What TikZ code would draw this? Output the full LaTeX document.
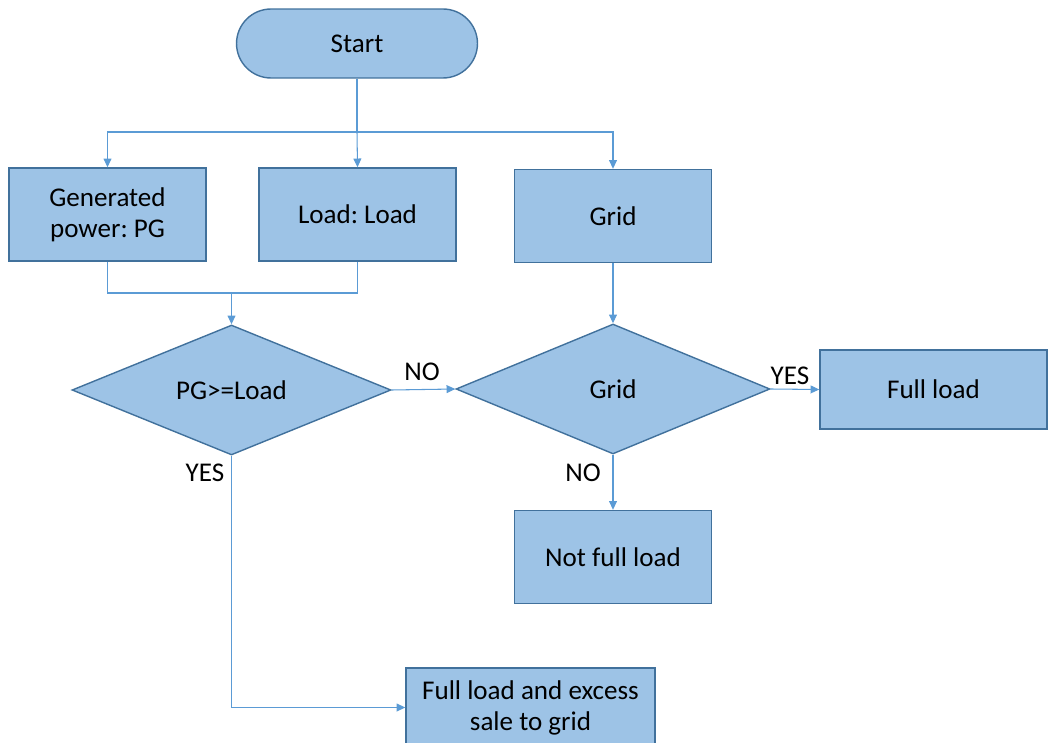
\documentclass[tikz,border=0pt]{standalone}
\usepackage{fontspec}
\setmainfont{Carlito}
\frenchspacing
\usetikzlibrary{
	arrows.meta,
	shapes.geometric,
	positioning
}
\definecolor{boxfill}{HTML}{9DC3E6}
\definecolor{boxline}{HTML}{41719C}
\definecolor{wire}{HTML}{5B9BD5}
\tikzset{
	>={Triangle[length=5pt, width=4.5pt]},
	flownode/.style={draw=boxline, fill=boxfill, line width=0.8pt, align=center, font=\fontsize{15.4}{17.6}\selectfont},
	termnode/.style={flownode, rounded corners=0.69cm, minimum width=4.82cm, minimum height=1.38cm},
	procnode/.style={flownode, minimum width=3.94cm, minimum height=1.86cm},
	decnode/.style={flownode, diamond, aspect=2.45, inner sep=0pt, minimum height=2.6cm},
	flowline/.style={draw=wire, line width=0.6pt},
	flowlabel/.style={font=\fontsize{15.4}{17.6}\selectfont}
}

\begin{document}
\begin{tikzpicture}[x=0.02cm, y=-0.02cm]
	\useasboundingbox (0,0) rectangle (1049,743);

	\node[termnode] (start) at (357,43.5) {Start};
	\node[procnode] (gen) at (107.5,214.5) {Generated\\power: PG};
	\node[procnode] (load) at (357.5,214.5) {Load: Load};
	\node[procnode] (grid) at (613,216) {Grid};
	\node[decnode, minimum width=6.38cm] (check) at (231.5,390) {PG>=Load};
	\node[decnode, minimum width=6.28cm] (gridok) at (613,389) {Grid};
	\node[procnode, minimum width=4.54cm, minimum height=1.58cm] (full) at (933.5,389.5) {Full load};
	\node[procnode] (notfull) at (613,557) {Not full load};
	\node[procnode, minimum width=4.98cm, minimum height=1.58cm] (excess) at (530.5,707.5) {Full load and excess\\sale to grid};

	\coordinate (split) at (357,132);
	\coordinate (merge) at (231.5,293);

	% branch labels
	\node[flowlabel] (no1) at (422,372) {NO};
	\node[flowlabel] (yes1) at (205,473) {YES};
	\node[flowlabel] (yes2) at (790,376) {YES};
	\node[flowlabel] (no2) at (583,473) {NO};

	\draw[flowline] (start.south) -- (split);
	\draw[flowline, ->] (split) -| (gen.north);
	\draw[flowline, ->] (split) -- (load.north);
	\draw[flowline, ->] (split) -| (grid.north);

	\draw[flowline] (gen.south) |- (merge) -| (load.south);
	\draw[flowline, ->] (merge) -- (check.north);

	\draw[flowline, ->] (check.east) -- (gridok.west);
	\draw[flowline, ->] (grid.south) -- (gridok.north);
	\draw[flowline, ->] (gridok.east) -- (full.west);
	\draw[flowline, ->] (gridok.south) -- (notfull.north);
	\draw[flowline, ->] (check.south) |- (excess.west);
\end{tikzpicture}
\end{document}
